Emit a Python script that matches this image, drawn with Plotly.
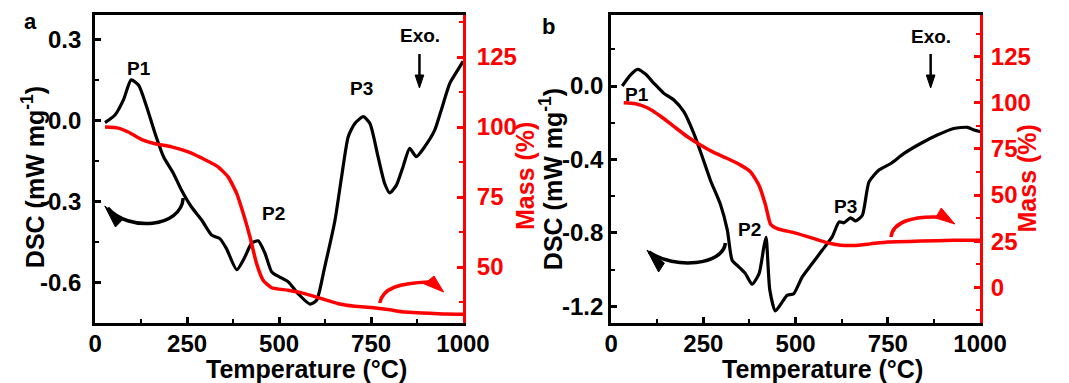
import plotly.graph_objects as go

# ---------------- data ----------------
temp_a_dsc = [27, 54, 77, 98, 118, 140, 163, 186, 213, 235, 262, 290, 317, 339, 357, 385, 407, 425, 443,
              462, 480, 502, 525, 552, 584, 602, 624, 652, 670, 688, 706, 729, 747, 769, 787, 801, 819,
              837, 855, 873, 896, 923, 941, 964, 986, 1000]
dsc_a = [-0.007, 0.021, 0.077, 0.151, 0.132, 0.052, -0.047, -0.133, -0.195, -0.257, -0.319, -0.368,
         -0.423, -0.436, -0.473, -0.551, -0.504, -0.454, -0.444, -0.491, -0.559, -0.578, -0.596, -0.640,
         -0.678, -0.664, -0.541, -0.368, -0.207, -0.059, -0.010, 0.015, -0.010, -0.133, -0.232, -0.267,
         -0.238, -0.170, -0.102, -0.133, -0.096, -0.035, 0.040, 0.138, 0.188, 0.220]

temp_a_mass = [27, 63, 90, 127, 163, 208, 253, 299, 335, 362, 385, 403, 421, 439, 457, 480, 525, 570,
               615, 661, 706, 751, 796, 842, 887, 932, 1000]
mass_a = [100, 99.6, 98.2, 95.5, 94.0, 92.9, 91.1, 88.3, 85.7, 82.1, 76.2, 69.0, 60.7, 51.2, 45.2, 42.6,
          41.7, 40.5, 38.7, 36.9, 36.0, 35.5, 34.8, 33.9, 33.6, 33.3, 33.1]

temp_b_dsc = [30, 52, 72, 93, 116, 143, 170, 197, 224, 247, 269, 297, 315, 328, 346, 364, 382, 401, 414,
              420, 430, 445, 464, 477, 495, 518, 545, 572, 599, 618, 631, 649, 663, 681, 699, 726, 758,
              794, 839, 884, 929, 966, 984, 1000]
dsc_b = [0.0, 0.06, 0.091, 0.065, 0.015, -0.040, -0.076, -0.140, -0.258, -0.385, -0.513, -0.649, -0.785,
         -0.949, -0.985, -1.022, -1.080, -1.022, -0.876, -0.825, -1.110, -1.225, -1.176, -1.140, -1.131,
         -1.040, -0.967, -0.895, -0.822, -0.740, -0.745, -0.718, -0.735, -0.704, -0.522, -0.458, -0.422,
         -0.367, -0.313, -0.267, -0.231, -0.225, -0.240, -0.249]

temp_b_mass = [34, 66, 98, 134, 170, 206, 242, 278, 315, 351, 378, 401, 419, 432, 450, 495, 541, 586,
               622, 658, 703, 749, 839, 929, 1000]
mass_b = [100, 99.5, 97.3, 92.7, 87.2, 81.7, 77.1, 73.1, 69.8, 66.2, 62.5, 55.2, 44.2, 34.2, 31.8, 29.6,
          26.9, 24.1, 22.8, 22.6, 23.5, 24.5, 25.0, 25.4, 25.4]

# tick labels
x_ticks = [0, 250, 500, 750, 1000]
x_ticktext = ["0", "250", "500", "750", "1000"]
x_minor = [125, 375, 625, 875]
ya_ticks = [0.3, 0.0, -0.3, -0.6]
ya_ticktext = ["0.3", "0.0", "-0.3", "-0.6"]
ya_minor = [0.15, -0.15, -0.45]
ma_ticks = [50, 75, 100, 125]
ma_ticktext = ["50", "75", "100", "125"]
ma_minor = [37.5, 62.5, 87.5, 112.5, 137.5]
yb_ticks = [0.0, -0.4, -0.8, -1.2]
yb_ticktext = ["0.0", "-0.4", "-0.8", "-1.2"]
yb_minor = [0.2, -0.2, -0.6, -1.0]
mb_ticks = [0, 25, 50, 75, 100, 125]
mb_ticktext = ["0", "25", "50", "75", "100", "125"]
mb_minor = [-12.5, 12.5, 37.5, 62.5, 87.5, 112.5, 137.5]

# ---------------- figure ----------------
W, H = 1069, 383
FONT = "Liberation Sans"


def PX(x):
    return x / W


def PY(y):
    return 1 - y / H


fig = go.Figure()
fig.add_trace(go.Scatter(x=temp_a_dsc, y=dsc_a, xaxis="x", yaxis="y", mode="lines",
                         line=dict(color="black", width=3.2, shape="spline", smoothing=0.6)))
fig.add_trace(go.Scatter(x=temp_a_mass, y=mass_a, xaxis="x", yaxis="y2", mode="lines",
                         line=dict(color="#ff0000", width=3.5, shape="spline", smoothing=0.5)))
fig.add_trace(go.Scatter(x=temp_b_dsc, y=dsc_b, xaxis="x2", yaxis="y3", mode="lines",
                         line=dict(color="black", width=3.2, shape="spline", smoothing=0.6)))
fig.add_trace(go.Scatter(x=temp_b_mass, y=mass_b, xaxis="x2", yaxis="y4", mode="lines",
                         line=dict(color="#ff0000", width=3.5, shape="spline", smoothing=0.5)))

tickfont_k = dict(family=FONT, size=24, color="black", weight="bold")
tickfont_r = dict(family=FONT, size=24, color="#ff0000", weight="bold")
ydom = [PY(323), PY(15)]


def xax(dom, anchor):
    return dict(domain=dom, anchor=anchor, range=[0, 1000], tickmode="array", tickvals=x_ticks,
                ticktext=x_ticktext, ticks="inside", ticklen=6, tickwidth=2.5, tickcolor="black",
                minor=dict(tickmode="array", tickvals=x_minor, ticks="inside", ticklen=4, tickwidth=2,
                           tickcolor="black"),
                showline=True, linewidth=3, linecolor="black", mirror=True, showgrid=False,
                zeroline=False, tickfont=tickfont_k, ticklabelstandoff=-3)


def yax_left(anchor, rng, tv, tt, mn, so):
    return dict(domain=ydom, anchor=anchor, range=rng, tickmode="array", tickvals=tv, ticktext=tt,
                ticks="inside", ticklen=6, tickwidth=2.5, tickcolor="black",
                minor=dict(tickmode="array", tickvals=mn, ticks="inside", ticklen=4, tickwidth=2,
                           tickcolor="black"),
                showline=True, linewidth=3, linecolor="black", showgrid=False, zeroline=False,
                tickfont=tickfont_k, ticklabelstandoff=so)


def yax_right(anchor, over, rng, tv, tt, mn, so):
    return dict(domain=ydom, anchor=anchor, overlaying=over, side="right", range=rng,
                tickmode="array", tickvals=tv, ticktext=tt,
                ticks="inside", ticklen=6, tickwidth=2.5, tickcolor="#ff0000",
                minor=dict(tickmode="array", tickvals=mn, ticks="inside", ticklen=4, tickwidth=2,
                           tickcolor="#ff0000"),
                showline=True, linewidth=3, linecolor="#ff0000", showgrid=False, zeroline=False,
                tickfont=tickfont_r, ticklabelstandoff=so)


fig.update_layout(
    width=W, height=H, margin=dict(l=0, r=0, t=0, b=0),
    paper_bgcolor="white", plot_bgcolor="white", showlegend=False,
    xaxis=xax([PX(91), PX(471)], "y"),
    yaxis=yax_left("x", [-0.748, 0.391], ya_ticks, ya_ticktext, ya_minor, 6),
    yaxis2=yax_right("x", "y", [30, 140], ma_ticks, ma_ticktext, ma_minor, 6),
    xaxis2=xax([PX(624), PX(1005)], "y3"),
    yaxis3=yax_left("x2", [-1.291, 0.387], yb_ticks, yb_ticktext, yb_minor, 0),
    yaxis4=yax_right("x2", "y3", [-19.4, 147.6], mb_ticks, mb_ticktext, mb_minor, 3),
)

ann = []
tfont = dict(family=FONT, size=25, color="black", weight="bold")
rfont = dict(family=FONT, size=25, color="#ff0000", weight="bold")
lfont = dict(family=FONT, size=19, color="black", weight="bold")


def paper_text(text, x, y, font, angle=0):
    ann.append(dict(text=text, x=PX(x), y=PY(y), xref="paper", yref="paper", showarrow=False,
                    xanchor="center", yanchor="middle", font=font, textangle=angle))


# panel letters
paper_text("a", 24, 22, dict(family=FONT, size=22, color="black", weight="bold"))
paper_text("b", 559, 26, dict(family=FONT, size=22, color="black", weight="bold"))
# axis titles
paper_text("Temperature (°C)", 309, 369, tfont)
paper_text("Temperature (°C)", 842, 369, tfont)
paper_text("DSC (mW mg<sup>-1</sup>)", 27, 177, tfont, -90)
paper_text("DSC (mW mg<sup>-1</sup>)", 562, 179, tfont, -90)
paper_text("Mass (%)", 535, 176, rfont, -90)
paper_text("Mass (%)", 1054, 178, rfont, -90)


def data_text(text, x, y, xr, yr):
    ann.append(dict(text=text, x=x, y=y, xref=xr, yref=yr, showarrow=False, xanchor="center",
                    yanchor="middle", font=lfont))


data_text("P1", 118, 0.194, "x", "y")
data_text("P2", 484, -0.343, "x", "y")
data_text("P3", 724, 0.120, "x", "y")
data_text("Exo.", 882, 0.314, "x", "y")
data_text("P1", 70, -0.045, "x2", "y3")
data_text("P2", 376, -0.782, "x2", "y3")
data_text("P3", 636, -0.658, "x2", "y3")
data_text("Exo.", 866, 0.269, "x2", "y3")

fig.update_layout(annotations=ann)


# arrows (decorations), given in pixels of the picture
def path_curve(p0, c1, c2, p1):
    return "M {},{} C {},{} {},{} {},{}".format(PX(p0[0]), PY(p0[1]), PX(c1[0]), PY(c1[1]),
                                              PX(c2[0]), PY(c2[1]), PX(p1[0]), PY(p1[1]))


def path_line(p0, p1):
    return "M {},{} L {},{}".format(PX(p0[0]), PY(p0[1]), PX(p1[0]), PY(p1[1]))


def path_tri(a, b, c):
    return "M {},{} L {},{} L {},{} Z".format(PX(a[0]), PY(a[1]), PX(b[0]), PY(b[1]), PX(c[0]), PY(c[1]))


shapes = []
for col, curve, tri in [
    ("black", ((182, 198), (180, 228), (125, 232), (104, 208)), ((101, 206), (119, 220), (112, 227))),
    ("black", ((742, 243), (740, 265), (690, 270), (663, 252)), ((661, 250), (679, 263), (673, 272))),
    ("#ff0000", ((385, 303), (388, 288), (405, 283), (436, 282)), ((431, 284), (441, 276), (451, 292))),
    ("#ff0000", ((913, 237), (915, 222), (935, 216), (962, 217)), ((959, 218), (965, 208), (979, 224))),
]:
    shapes.append(dict(type="path", path=path_curve(*curve), xref="paper", yref="paper",
                       line=dict(color=col, width=3.5)))
    shapes.append(dict(type="path", path=path_tri(*tri), xref="paper", yref="paper",
                       line=dict(color=col, width=1), fillcolor=col))

# Exo. arrows pointing down
for xc in (426, 954):
    shapes.append(dict(type="path", path=path_line((xc, 54), (xc, 78)), xref="paper", yref="paper",
                       line=dict(color="black", width=2.5)))
    shapes.append(dict(type="path", path=path_tri((xc - 4.5, 75), (xc + 4.5, 75), (xc, 88)),
                       xref="paper", yref="paper", line=dict(color="black", width=1),
                       fillcolor="black"))
fig.update_layout(shapes=shapes)

fig.write_html("out.html", config={"displayModeBar": False},
               post_script="document.body.style.margin='0';")
